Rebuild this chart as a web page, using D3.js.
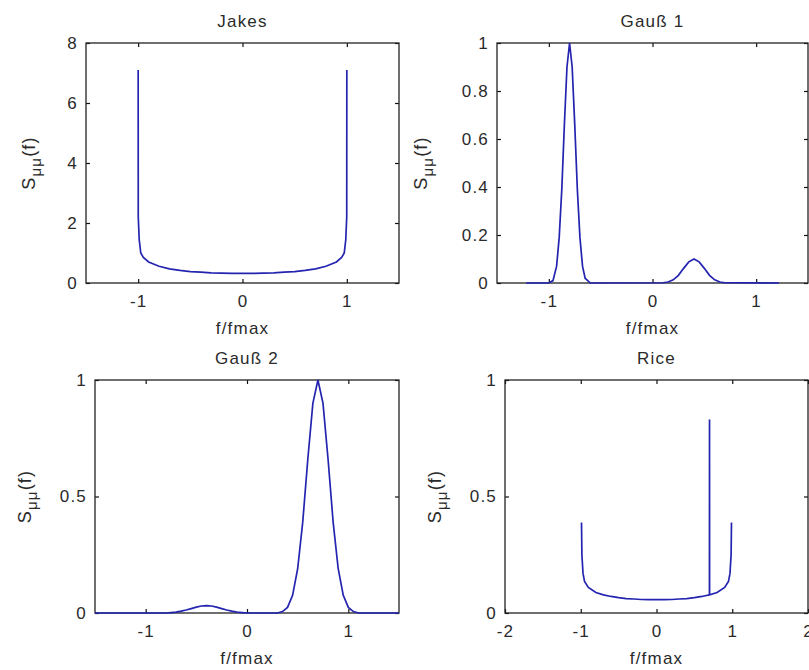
<!DOCTYPE html>
<html>
<head>
<meta charset="utf-8">
<script src="https://cdn.jsdelivr.net/npm/d3@7"></script>
<style>
  body { margin: 0; background: #fff; }
  text { font-family: "Liberation Sans", Arial, sans-serif; font-weight: 400; fill: #2a2a2a; letter-spacing: 1.2px; }
</style>
</head>
<body>
<div id="chart"></div>
<script>
// titles of the four subplots
const titles = ["Jakes", "Gauß 1", "Gauß 2", "Rice"];

// Jakes spectrum
const jakesF = [-1, -0.999, -0.99, -0.975, -0.95, -0.9, -0.8, -0.7, -0.6, -0.5, -0.4, -0.3, -0.2, -0.1, 0,
  0.1, 0.2, 0.3, 0.4, 0.5, 0.6, 0.7, 0.8, 0.9, 0.95, 0.975, 0.99, 0.999, 1];
const jakesS = [7.1, 2.2, 1.45, 1.0, 0.85, 0.7, 0.56, 0.47, 0.42, 0.38, 0.36, 0.34, 0.33, 0.32, 0.32,
  0.32, 0.33, 0.34, 0.36, 0.38, 0.42, 0.47, 0.56, 0.7, 0.85, 1.0, 1.45, 2.2, 7.1];

// Gauß 1 spectrum
const gauss1F = [-1.22, -1.0, -0.96, -0.925, -0.9, -0.875, -0.85, -0.825, -0.8, -0.775, -0.75, -0.725, -0.7, -0.675, -0.65, -0.6,
  0.1, 0.15, 0.2, 0.25, 0.3, 0.35, 0.4, 0.45, 0.5, 0.55, 0.6, 0.65, 0.7, 1.22];
const gauss1S = [0, 0, 0.01, 0.07, 0.19, 0.39, 0.66, 0.9, 1.0, 0.9, 0.66, 0.39, 0.19, 0.07, 0.02, 0,
  0.001, 0.004, 0.013, 0.032, 0.061, 0.088, 0.1, 0.088, 0.061, 0.032, 0.013, 0.004, 0.001, 0];

// Gauß 2 spectrum
const gauss2F = [-1.5, -0.8, -0.75, -0.7, -0.65, -0.6, -0.55, -0.5, -0.45, -0.4, -0.35, -0.3, -0.25, -0.2, -0.15, -0.1, -0.05, 0,
  0.3, 0.35, 0.4, 0.45, 0.5, 0.55, 0.6, 0.65, 0.7, 0.75, 0.8, 0.85, 0.9, 0.95, 1.0, 1.05, 1.1, 1.5];
const gauss2S = [0, 0, 0.002, 0.004, 0.008, 0.013, 0.019, 0.025, 0.03, 0.032, 0.03, 0.025, 0.019, 0.013, 0.008, 0.004, 0.002, 0,
  0, 0.006, 0.024, 0.076, 0.19, 0.39, 0.66, 0.9, 1, 0.9, 0.66, 0.39, 0.19, 0.076, 0.024, 0.006, 0, 0];

// Rice spectrum (Jakes part + line of sight at 0.7)
const riceF = [-0.99, -0.985, -0.97, -0.95, -0.9, -0.8, -0.7, -0.6, -0.5, -0.4, -0.3, -0.2, -0.1, 0,
  0.1, 0.2, 0.3, 0.4, 0.5, 0.6, 0.699, 0.7, 0.701, 0.8, 0.9, 0.95, 0.97, 0.985, 0.99];
const riceS = [0.388, 0.25, 0.17, 0.135, 0.11, 0.088, 0.078, 0.071, 0.066, 0.062, 0.06, 0.058, 0.057, 0.057,
  0.057, 0.058, 0.06, 0.062, 0.066, 0.071, 0.078, 0.83, 0.078, 0.088, 0.11, 0.135, 0.17, 0.25, 0.388];

// tick values
const xTicks3 = [-1, 0, 1];
const xTicksRice = [-2, -1, 0, 1, 2];
const yTicksJakes = [0, 2, 4, 6, 8];
const yTicksGauss1 = [0, 0.2, 0.4, 0.6, 0.8, 1];
const yTicksHalf = [0, 0.5, 1];

const width = 809,
  height = 670;

// panel layout: box = [left, top, right, bottom], yOff = ylabel distance from axis
const panels = [
  { title: titles[0], f: jakesF, s: jakesS, xDom: [-1.5, 1.5], yDom: [0, 8], xt: xTicks3, yt: yTicksJakes, box: [86, 43, 399, 283], yOff: 51 },
  { title: titles[1], f: gauss1F, s: gauss1S, xDom: [-1.5, 1.5], yDom: [0, 1], xt: xTicks3, yt: yTicksGauss1, box: [497, 43, 808, 283], yOff: 70 },
  { title: titles[2], f: gauss2F, s: gauss2S, xDom: [-1.5, 1.5], yDom: [0, 1], xt: xTicks3, yt: yTicksHalf, box: [95, 380, 399, 613], yOff: 64 },
  { title: titles[3], f: riceF, s: riceS, xDom: [-2, 2], yDom: [0, 1], xt: xTicksRice, yt: yTicksHalf, box: [505, 380, 808, 613], yOff: 64 },
];

const svg = d3
  .select("#chart")
  .append("svg")
  .attr("width", width)
  .attr("height", height);

panels.forEach((p) => {
  const [l, t, r, b] = p.box;
  const x = d3.scaleLinear().domain(p.xDom).range([l, r]);
  const y = d3.scaleLinear().domain(p.yDom).range([b, t]);
  const g = svg.append("g");
  const fmt = (d) => String(d);

  // bottom axis with labels, ticks pointing inward
  g.append("g")
    .attr("transform", `translate(0,${b})`)
    .call(d3.axisBottom(x).tickValues(p.xt).tickFormat(fmt).tickSize(-4).tickPadding(12));
  // top ticks only
  g.append("g")
    .attr("transform", `translate(0,${t})`)
    .call(d3.axisTop(x).tickValues(p.xt).tickFormat("").tickSize(-4));
  // left axis with labels
  g.append("g")
    .attr("transform", `translate(${l},0)`)
    .call(d3.axisLeft(y).tickValues(p.yt).tickFormat(fmt).tickSize(-4).tickPadding(8));
  // right ticks only
  g.append("g")
    .attr("transform", `translate(${r},0)`)
    .call(d3.axisRight(y).tickValues(p.yt).tickFormat("").tickSize(-4));

  g.selectAll(".domain").remove();
  g.selectAll("g").attr("font-family", null).attr("font-size", null);
  g.selectAll(".tick line").attr("stroke", "#111").attr("stroke-width", 1.2);
  g.selectAll(".tick text")
    .style("font-size", "17px")
    .attr("fill", null);

  // box around the axes
  g.append("rect")
    .attr("x", l)
    .attr("y", t)
    .attr("width", r - l)
    .attr("height", b - t)
    .attr("fill", "none")
    .attr("stroke", "#222")
    .attr("stroke-width", 1.3);

  // spectrum curve
  const line = d3
    .line()
    .x((d, i) => x(p.f[i]))
    .y((d) => y(d));
  g.append("path")
    .datum(p.s)
    .attr("d", line)
    .attr("fill", "none")
    .attr("stroke", "#2424b0")
    .attr("stroke-width", 1.7);

  // title
  g.append("text")
    .attr("x", (l + r) / 2)
    .attr("y", t - 16)
    .attr("text-anchor", "middle")
    .style("font-size", "17px")
    .text(p.title);

  // x label
  g.append("text")
    .attr("x", (l + r) / 2)
    .attr("y", b + 51)
    .attr("text-anchor", "middle")
    .style("font-size", "17px")
    .text("f/fmax");

  // y label S_μμ(f)
  const yl = g
    .append("text")
    .attr("transform", `translate(${l - p.yOff},${(t + b) / 2}) rotate(-90)`)
    .attr("text-anchor", "middle")
    .style("font-size", "18px");
  yl.append("tspan").text("S");
  yl.append("tspan").attr("dy", 6).style("font-size", "15px").text("μμ");
  yl.append("tspan").attr("dy", -6).text("(f)");
});
</script>
</body>
</html>
